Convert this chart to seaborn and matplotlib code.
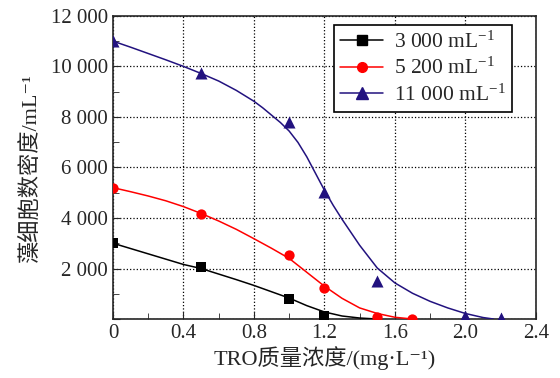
import matplotlib
matplotlib.use('Agg')
import matplotlib.pyplot as plt
from matplotlib.lines import Line2D
from matplotlib.ticker import MultipleLocator, FuncFormatter
import seaborn as sns

# measured points
x_3000 = [0, 0.5, 1.0, 1.2]
y_3000 = [3000, 2050, 800, 120]
x_5200 = [0, 0.5, 1.0, 1.2, 1.5, 1.7]
y_5200 = [5200, 4170, 2520, 1220, 80, 0]
x_11000 = [0, 0.5, 1.0, 1.2, 1.5, 2.0, 2.2]
y_11000 = [11000, 9740, 7780, 5030, 1490, 120, 60]

# fitted curves
cx_3000 = [0, 0.1, 0.2, 0.3, 0.4, 0.5, 0.6, 0.7, 0.8, 0.9, 1.0, 1.1, 1.2, 1.3, 1.4, 1.5]
cy_3000 = [3000, 2790, 2580, 2370, 2160, 2000, 1780, 1560, 1330, 1080, 830, 530, 280, 120, 40, 0]
cx_5200 = [0, 0.1, 0.2, 0.3, 0.4, 0.5, 0.6, 0.7, 0.8, 0.9, 1.0, 1.1, 1.2, 1.3, 1.4, 1.5, 1.6, 1.7]
cy_5200 = [5200, 5040, 4870, 4680, 4450, 4180, 3880, 3550, 3180, 2800, 2400, 1850, 1300, 820, 440, 220, 70, 0]
cx_11000 = [0, 0.1, 0.2, 0.3, 0.4, 0.5, 0.6, 0.7, 0.8, 0.85, 0.9, 0.95, 1.0, 1.05, 1.1, 1.15, 1.2,
            1.25, 1.3, 1.4, 1.5, 1.6, 1.7, 1.8, 1.9, 2.0, 2.1, 2.16]
cy_11000 = [11000, 10760, 10510, 10260, 10000, 9720, 9420, 9050, 8620, 8360, 8070, 7780, 7440, 6990,
            6420, 5760, 5100, 4500, 3950, 2920, 2020, 1430, 1020, 700, 440, 220, 60, 0]

labels = [r'3 000 mL$^{-1}$', r'5 200 mL$^{-1}$', r'11 000 mL$^{-1}$']
colors = ['black', '#ff0000', '#22127f']
markers = ['s', 'o', '^']

sns.set_style('ticks')
plt.rcParams['font.family'] = ['Liberation Serif', 'Noto Sans CJK SC', 'DejaVu Sans']
plt.rcParams['mathtext.fontset'] = 'custom'
plt.rcParams['mathtext.rm'] = 'Liberation Serif'
plt.rcParams['mathtext.it'] = 'Liberation Serif:italic'

fig = plt.figure(figsize=(5.6, 3.78), dpi=100)
ax = fig.add_axes([0.2018, 0.156, 0.755, 0.802])

curves = [(cx_3000, cy_3000), (cx_5200, cy_5200), (cx_11000, cy_11000)]
points = [(x_3000, y_3000), (x_5200, y_5200), (x_11000, y_11000)]
msizes = [55, 55, 75]
for (cx, cy), (px, py), c, m, s in zip(curves, points, colors, markers, msizes):
    sns.lineplot(x=cx, y=cy, ax=ax, color=c, lw=1.1, sort=False, zorder=3)
    sns.scatterplot(x=px, y=py, ax=ax, color=c, marker=m, s=s, edgecolor=c, linewidth=0, zorder=4)
for coll in ax.collections:
    coll.set_clip_on(True)
    coll.set_clip_path(ax.patch)

ax.set_xlim(0, 2.4)
ax.set_ylim(0, 12000)
ax.xaxis.set_major_locator(MultipleLocator(0.4))
ax.xaxis.set_minor_locator(MultipleLocator(0.2))
ax.yaxis.set_major_locator(MultipleLocator(2000))
ax.yaxis.set_minor_locator(MultipleLocator(1000))
ax.xaxis.set_major_formatter(FuncFormatter(lambda v, p: '0' if abs(v) < 1e-9 else f'{v:.1f}'))
ax.yaxis.set_major_formatter(FuncFormatter(lambda v, p: '' if v == 0 else f'{int(v):,}'.replace(',', ' ')))
ax.tick_params(which='both', direction='in', labelsize=15, top=False, right=False)
ax.tick_params(which='major', length=5)
ax.tick_params(which='minor', length=4)
ax.grid(True, which='major', color='black', linestyle=':', lw=0.9)
for sp in ax.spines.values():
    sp.set_linewidth(1.2)
    sp.set_visible(True)

ax.set_xlabel('TRO质量浓度/(mg·L⁻¹)', fontsize=16, labelpad=2)
ax.set_ylabel('藻细胞数密度/mL⁻¹', fontsize=16, labelpad=7)

handles = [Line2D([0], [0], color=c, marker=m, lw=1.1, markersize=ms)
           for c, m, ms in zip(colors, markers, [7, 7, 8])]
leg = ax.legend(handles, labels, loc='upper right', bbox_to_anchor=(0.944, 0.97), fontsize=15.5,
                frameon=True, fancybox=False, edgecolor='black', framealpha=1,
                borderpad=0.3, labelspacing=0.25, handlelength=2.0, handletextpad=0.5, borderaxespad=0)
leg.get_frame().set_linewidth(1.2)

fig.savefig('out.png', dpi=100)
